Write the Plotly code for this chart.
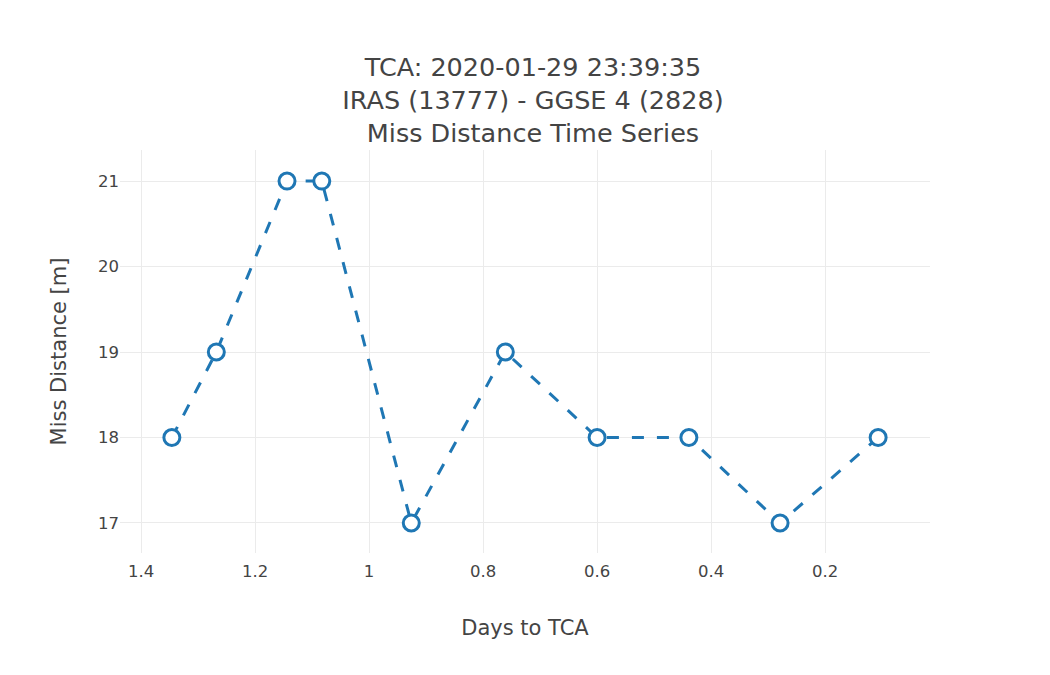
import plotly.graph_objects as go

days_to_tca = [1.346, 1.268, 1.144, 1.083, 0.926, 0.761, 0.600, 0.439, 0.279, 0.107]
miss_distance = [18, 19, 21, 21, 17, 19, 18, 18, 17, 18]

title_lines = ["TCA: 2020-01-29 23:39:35", "IRAS (13777) - GGSE 4 (2828)", "Miss Distance Time Series"]

fig = go.Figure()
fig.add_trace(go.Scatter(
    x=days_to_tca, y=miss_distance, mode="lines+markers",
    line=dict(color="#1f77b4", width=3, dash="12px,13px"),
    marker=dict(size=16, color="white", line=dict(color="#1f77b4", width=3)),
    showlegend=False,
))
fig.update_layout(
    template="plotly_white",
    width=1050, height=675,
    font=dict(family="DejaVu Sans, Verdana, sans-serif", size=16.5, color="#444"),
    title=dict(text="<br>".join(title_lines), x=0.5, xanchor="center",
               y=0.899, yanchor="top", font=dict(size=25.5)),
    margin=dict(l=112, r=128, t=142, b=130),
    xaxis=dict(title=dict(text="Days to TCA", font=dict(size=21), standoff=40),
               range=[1.437, 0.016], dtick=0.2, tick0=0, zeroline=False,
               gridcolor="rgb(235,235,235)",
               tickfont=dict(size=16.5), ticklabelstandoff=6),
    yaxis=dict(title=dict(text="Miss Distance [m]", font=dict(size=21), standoff=25),
               range=[16.649, 21.363], dtick=1, zeroline=False,
               gridcolor="rgb(235,235,235)",
               tickfont=dict(size=16.5)),
)
fig.write_html("out.html")
